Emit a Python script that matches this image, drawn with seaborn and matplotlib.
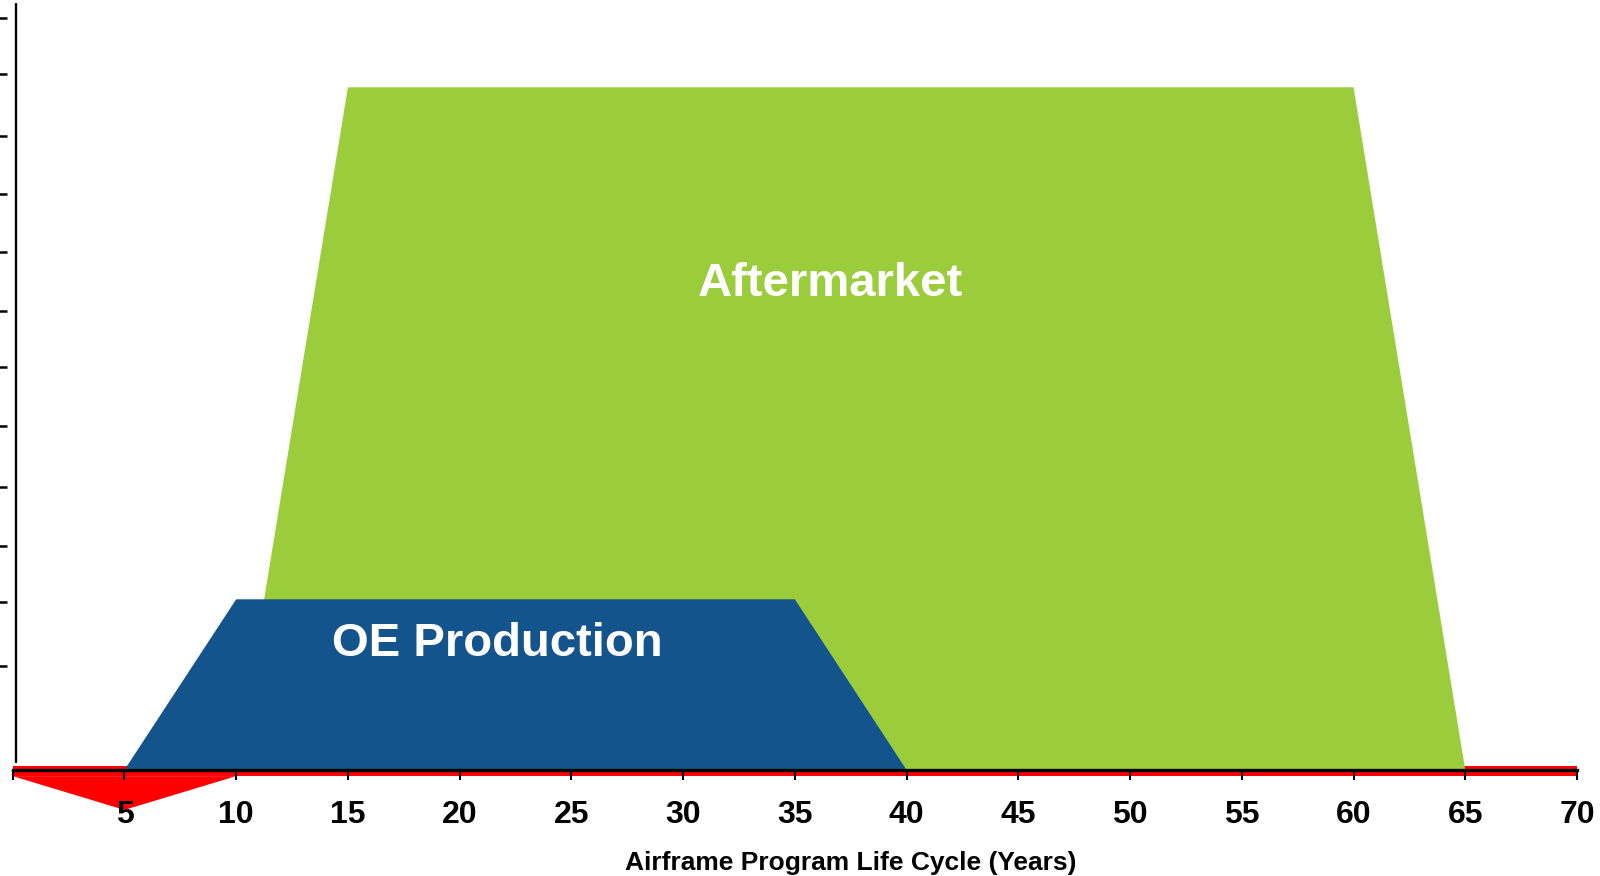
import matplotlib
matplotlib.use("Agg")
import matplotlib.pyplot as plt
import seaborn as sns
import numpy as np

# ---- data ----
after_x = [10, 15, 60, 65]
after_y = [0, 100, 100, 0]
oe_x = [5, 10, 35, 40]
oe_y = [0, 25, 25, 0]
tri_x = [0, 5, 10]
tri_y = [-0.9, -5.85, -0.9]
band_x = [0, 70]
band_y = [-0.15, -0.15]
xticks = list(range(0, 75, 5))
xtick_labels = [""] + [str(v) for v in range(5, 75, 5)]
yticks = [15.2, 24.6, 32.8, 41.5, 50.4, 59.0, 67.2, 75.8, 84.4, 92.9, 101.9, 110.1]

GREEN = "#9BCC3C"
BLUE = "#14548C"
RED = "#FF0000"

sns.set_theme(style="white")
plt.rcParams["font.family"] = ["Liberation Sans", "DejaVu Sans"]

fig = plt.figure(figsize=(16, 8.76), dpi=100)
ax = fig.add_axes([12.7 / 1600, (876 - 808) / 876, (1577 - 12.7) / 1600, (808 - 4) / 876])
ax.set_xlim(0, 70)
ax.set_ylim(-5.57, 112.2)

# shapes
ax.fill(after_x, after_y, color=GREEN, lw=0, zorder=2)
ax.fill(oe_x, oe_y, color=BLUE, lw=0, zorder=3)
ax.fill(tri_x, tri_y, color=RED, lw=0, zorder=2, clip_on=False)
sns.lineplot(x=band_x, y=band_y, ax=ax, color=RED, linewidth=7.2, zorder=1,
             solid_capstyle="butt", legend=False)
for l in ax.lines:
    l.set_clip_on(False)

# labels on shapes
ax.text(36.6, 71.2, "Aftermarket", color="white", fontsize=34, fontweight="bold",
        ha="center", va="center", zorder=5)
ax.text(21.7, 18.4, "OE Production", color="white", fontsize=34, fontweight="bold",
        ha="center", va="center", zorder=5)

# vertical axis line
ax.plot([0.15, 0.15], [1.17, 112.2], color="black", lw=1.7, zorder=6, clip_on=False)

# spines
for s in ["top", "right"]:
    ax.spines[s].set_visible(False)
ax.spines["bottom"].set_position(("data", 0))
ax.spines["bottom"].set_bounds(0, 70)
ax.spines["bottom"].set_linewidth(2.4)
ax.spines["bottom"].set_color("black")
ax.spines["bottom"].set_zorder(6)
ax.spines["left"].set_position(("data", -0.255))
ax.spines["left"].set_visible(False)

ax.set_xticks(xticks)
ax.set_xticklabels(xtick_labels)
ax.set_yticks(yticks)
ax.set_yticklabels([])
ax.tick_params(axis="x", direction="out", length=7.5, width=1.5, color="black",
               pad=14, labelsize=23, bottom=True)
ax.tick_params(axis="y", direction="out", length=5.5, width=1.8, color="black", left=True)
for lab in ax.get_xticklabels():
    lab.set_fontweight("bold")
    lab.set_color("black")
ax.xaxis.set_zorder(10)
ax.yaxis.set_zorder(10)

ax.set_xlabel("")
ax.set_ylabel("")
ax.grid(False)
ax.set_facecolor("white")

fig.text(851 / 1600, 1 - 863 / 876, "Airframe Program Life Cycle (Years)",
         fontsize=19, fontweight="bold", ha="center", va="center", color="black")

fig.savefig("out.png", dpi=100, facecolor="white")
